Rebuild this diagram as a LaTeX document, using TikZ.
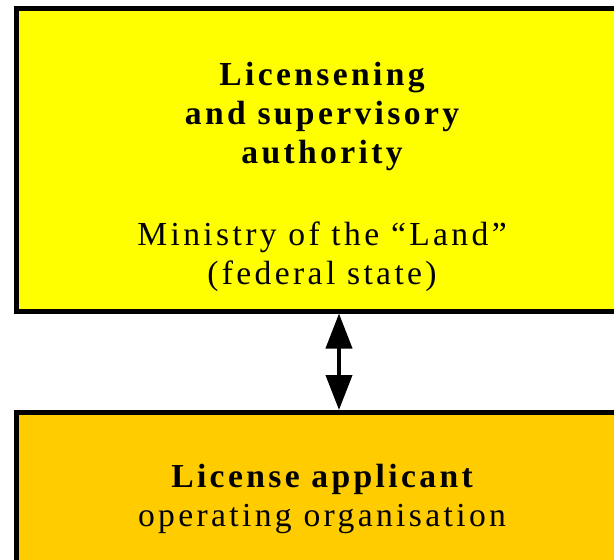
\documentclass[tikz,border=0pt]{standalone}
\usepackage{fontspec}
\setmainfont{Liberation Serif}[LetterSpace=10]
\usetikzlibrary{arrows.meta}
\definecolor{boxyellow}{HTML}{FFFF00}
\definecolor{boxorange}{HTML}{FFCC00}
\tikzset{
  box/.style={draw=black, line width=5pt, rectangle, inner sep=0pt, outer sep=0pt, anchor=north west},
  txt/.style={anchor=base, inner sep=0pt, font=\fontsize{33.6}{39}\selectfont, text=black},
  btxt/.style={txt, font=\fontsize{33.6}{39}\selectfont\bfseries},
  link/.style={line width=4pt, {Triangle[width=26pt,length=35pt]}-{Triangle[width=26pt,length=35pt]}}
}
\begin{document}
\begin{tikzpicture}[x=1pt,y=-1pt]
\useasboundingbox (0,0) rectangle (614,560);
\clip (0,0) rectangle (614,560);
\node[box, fill=boxyellow, minimum width=623pt, minimum height=302.5pt] (auth) at (16.5,8.5) {};
\node[box, fill=boxorange, minimum width=623pt, minimum height=200pt] (appl) at (16.5,412.5) {};
\node[btxt] (t1) at (322,85) {Licensening};
\node[btxt] (t2) at (322,124) {and supervisory};
\node[btxt] (t3) at (322,163) {authority};
\node[txt] (t4) at (322,245) {Ministry of the “Land”};
\node[txt] (t5) at (322,284) {(federal state)};
\node[btxt] (b1) at (322,487) {License applicant};
\node[txt] (b2) at (322,526) {operating organisation};
\coordinate (ax) at (339,0);
\draw[link] ([yshift=-2.5pt]auth.south -| ax) -- ([yshift=2.5pt]appl.north -| ax);
\end{tikzpicture}
\end{document}
